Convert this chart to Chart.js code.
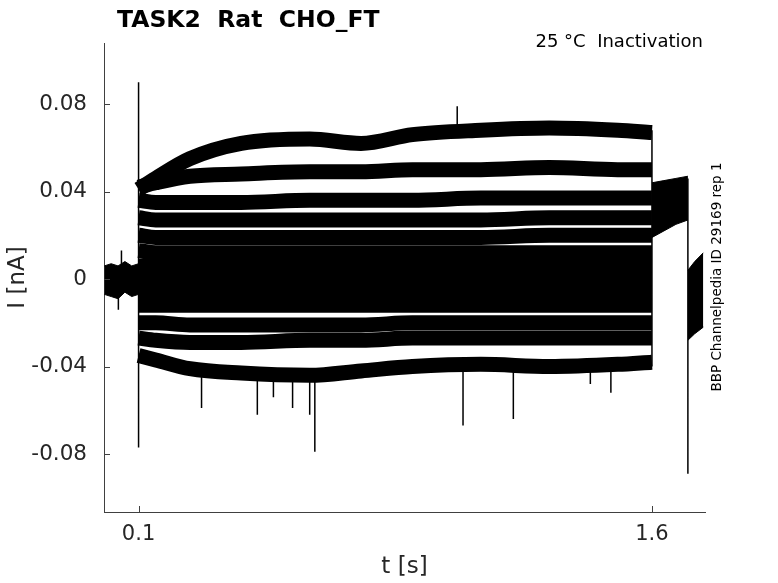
<!DOCTYPE html>
<html lang="en">
<head>
  <meta charset="UTF-8">
  <title>TASK2 Rat CHO_FT</title>
  <script src="https://cdn.jsdelivr.net/npm/chart.js"></script>
  <style>
    * {
      margin: 0;
      padding: 0;
      box-sizing: border-box;
    }

    body {
      background-color: #fff;
      width: 778px;
      height: 583px;
      overflow: hidden;
    }
  </style>
</head>
<body>
  <canvas id="traces" width="778" height="583"></canvas>

  <script>
    // prepulse (0.1 - 1.6 s): mean current of each sweep
    const tPre = [0.1, 0.15, 0.25, 0.4, 0.6, 0.75, 0.9, 1.1, 1.3, 1.5, 1.6];
    const prepulseI = [
      [0.041, 0.046, 0.055, 0.062, 0.064, 0.062, 0.066, 0.068, 0.069, 0.068, 0.067],
      [0.042, 0.044, 0.047, 0.048, 0.049, 0.049, 0.050, 0.050, 0.051, 0.050, 0.050],
      [0.036, 0.035, 0.035, 0.035, 0.036, 0.036, 0.036, 0.037, 0.037, 0.037, 0.037],
      [0.028, 0.027, 0.027, 0.027, 0.027, 0.027, 0.027, 0.027, 0.028, 0.028, 0.028],
      [0.020, 0.019, 0.019, 0.019, 0.019, 0.019, 0.019, 0.019, 0.020, 0.020, 0.020],
      [0.013, 0.012, 0.012, 0.012, 0.012, 0.012, 0.012, 0.012, 0.012, 0.012, 0.012],
      [0.006, 0.006, 0.006, 0.006, 0.006, 0.006, 0.006, 0.006, 0.006, 0.006, 0.006],
      [0.000, 0.000, 0.000, 0.000, 0.000, 0.000, 0.000, 0.000, 0.000, 0.000, 0.000],
      [-0.006, -0.006, -0.006, -0.006, -0.006, -0.006, -0.006, -0.006, -0.006, -0.006, -0.006],
      [-0.012, -0.012, -0.012, -0.012, -0.012, -0.012, -0.012, -0.012, -0.012, -0.012, -0.012],
      [-0.020, -0.020, -0.021, -0.021, -0.021, -0.021, -0.020, -0.020, -0.020, -0.020, -0.020],
      [-0.027, -0.028, -0.029, -0.029, -0.028, -0.028, -0.027, -0.027, -0.027, -0.027, -0.027],
      [-0.035, -0.037, -0.041, -0.043, -0.044, -0.042, -0.040, -0.039, -0.040, -0.039, -0.038]
    ];

    // holding, test pulse and tail: all sweeps overlap, kept as envelopes
    const tHold = [0, 0.02, 0.04, 0.06, 0.08, 0.1];
    const holdUpper = [0.006, 0.007, 0.006, 0.008, 0.006, 0.007];
    const holdLower = [-0.007, -0.008, -0.009, -0.006, -0.008, -0.007];

    const tTest = [1.6, 1.635, 1.67, 1.705];
    const testUpper = [0.044, 0.045, 0.046, 0.047];
    const testLower = [0.019, 0.022, 0.025, 0.027];

    const tTail = [1.705, 1.725, 1.75];
    const tailUpper = [0.004, 0.008, 0.012];
    const tailLower = [-0.028, -0.025, -0.022];

    // transients and single noise spikes: time, start, tip
    const spikeT = [0.1, 1.6, 1.705, 0.041, 0.05, 0.284, 0.447, 0.494, 0.55, 0.6, 0.615, 1.031, 1.048, 1.195, 1.42, 1.48];
    const spikeFrom = [-0.077, -0.040, 0.046, -0.007, 0.006, -0.040, -0.042, -0.043, -0.043, -0.043, -0.043, 0.068, -0.040, -0.040, -0.040, -0.040];
    const spikeTo = [0.090, 0.068, -0.089, -0.014, 0.013, -0.059, -0.062, -0.054, -0.059, -0.062, -0.079, 0.079, -0.067, -0.064, -0.048, -0.052];

    const xTicks = [0.1, 1.6];
    const yTicks = [-0.08, -0.04, 0, 0.04, 0.08];

    const toPoints = (ts, vs) => ts.map((t, k) => ({ x: t, y: vs[k] }));

    const envelope = (ts, upper, lower) => [
      { data: toPoints(ts, upper), borderColor: '#000', borderWidth: 1, backgroundColor: '#000', fill: '+1', pointRadius: 0 },
      { data: toPoints(ts, lower), borderColor: '#000', borderWidth: 1, pointRadius: 0, fill: false }
    ];

    const sweepSets = prepulseI.map((vals) => ({
      data: toPoints(tPre, vals),
      borderColor: '#000',
      borderWidth: 15,
      borderJoinStyle: 'round',
      cubicInterpolationMode: 'monotone',
      pointRadius: 0,
      fill: false
    }));

    const spikePoints = [];
    spikeT.forEach((t, k) => {
      spikePoints.push({ x: t, y: spikeFrom[k] }, { x: t, y: spikeTo[k] }, { x: t, y: null });
    });

    const decor = {
      id: 'decor',
      afterDraw(chart) {
        const ctx = chart.ctx;
        const xs = chart.scales.x;
        const ys = chart.scales.y;
        const area = chart.chartArea;

        ctx.save();
        ctx.strokeStyle = '#404040';
        ctx.lineWidth = 1;
        ctx.beginPath();
        xTicks.forEach((v) => {
          const px = Math.round(xs.getPixelForValue(v)) + 0.5;
          ctx.moveTo(px, area.bottom);
          ctx.lineTo(px, area.bottom - 6);
        });
        yTicks.forEach((v) => {
          const py = Math.round(ys.getPixelForValue(v)) + 0.5;
          ctx.moveTo(area.left, py);
          ctx.lineTo(area.left + 6, py);
        });
        ctx.stroke();

        ctx.fillStyle = '#000';
        ctx.textBaseline = 'alphabetic';
        ctx.textAlign = 'left';
        ctx.font = 'bold 23.5px "DejaVu Sans"';
        ctx.fillText('TASK2  Rat  CHO_FT', 117, 27);

        ctx.textAlign = 'right';
        ctx.font = '18px "DejaVu Sans"';
        ctx.fillText('25 °C  Inactivation', 703, 47);

        ctx.fillStyle = '#262626';
        ctx.textAlign = 'center';
        ctx.textBaseline = 'middle';
        ctx.font = '23px "DejaVu Sans"';
        ctx.fillText('t [s]', (area.left + area.right) / 2, 567);

        ctx.save();
        ctx.translate(18, (area.top + area.bottom) / 2);
        ctx.rotate(-Math.PI / 2);
        ctx.fillText('I [nA]', 0, 0);
        ctx.restore();

        ctx.fillStyle = '#000';
        ctx.save();
        ctx.translate(717, 277);
        ctx.rotate(-Math.PI / 2);
        ctx.font = '13.5px "DejaVu Sans"';
        ctx.fillText('BBP Channelpedia ID 29169 rep 1', 0, 0);
        ctx.restore();
        ctx.restore();
      }
    };

    new Chart(document.getElementById('traces').getContext('2d'), {
      type: 'line',
      data: {
        datasets: [
          ...envelope(tHold, holdUpper, holdLower),
          ...envelope(tTest, testUpper, testLower),
          ...envelope(tTail, tailUpper, tailLower),
          ...sweepSets,
          {
            data: spikePoints,
            borderColor: '#000',
            borderWidth: 1.5,
            pointRadius: 0,
            spanGaps: false,
            fill: false
          }
        ]
      },
      options: {
        responsive: false,
        animation: false,
        layout: { padding: { top: 43, right: 73, left: 0, bottom: 0 } },
        plugins: {
          legend: { display: false },
          tooltip: { enabled: false },
          title: { display: false }
        },
        scales: {
          x: {
            type: 'linear',
            min: -0.001,
            max: 1.755,
            afterFit: (s) => { s.height = 71; },
            afterBuildTicks: (s) => { s.ticks = xTicks.map((v) => ({ value: v })); },
            grid: { display: false, drawTicks: false },
            border: { display: true, color: '#404040', width: 1 },
            ticks: {
              padding: 10,
              color: '#262626',
              font: { family: 'DejaVu Sans', size: 21 },
              maxRotation: 0,
              callback: (v) => String(v)
            }
          },
          y: {
            type: 'linear',
            min: -0.1065,
            max: 0.1079,
            afterFit: (s) => { s.width = 104; },
            afterBuildTicks: (s) => { s.ticks = yTicks.map((v) => ({ value: v })); },
            grid: { display: false, drawTicks: false },
            border: { display: true, color: '#404040', width: 1 },
            ticks: {
              padding: 17,
              color: '#262626',
              font: { family: 'DejaVu Sans', size: 21.5 },
              callback: (v) => String(v)
            }
          }
        }
      },
      plugins: [decor]
    });
  </script>
</body>
</html>
